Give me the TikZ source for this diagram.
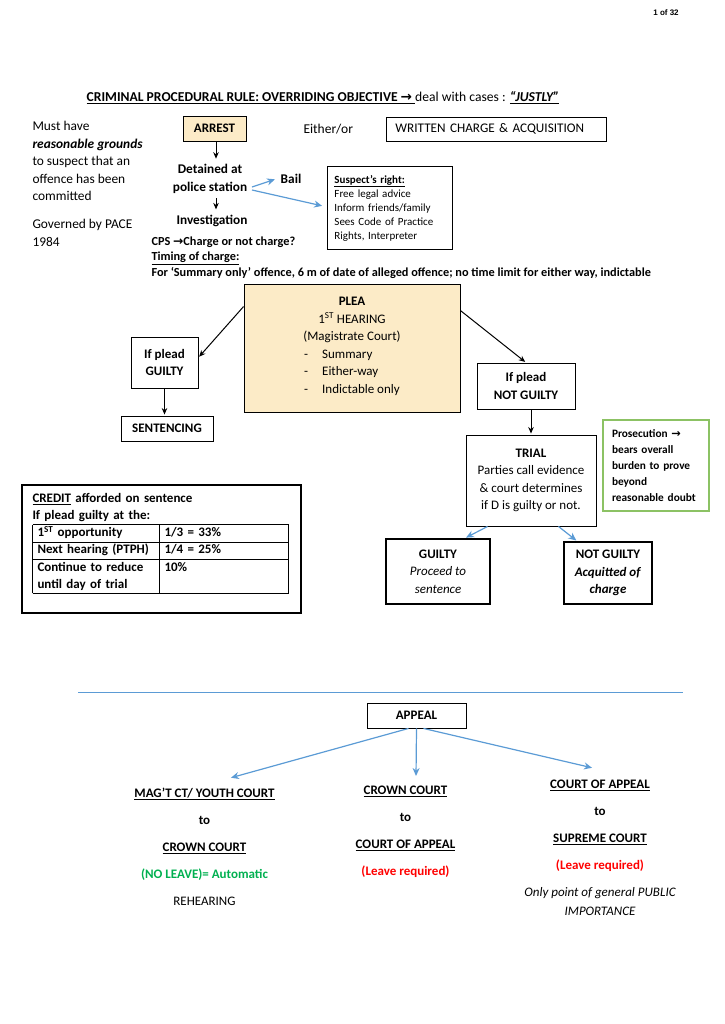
\documentclass[tikz,border=0pt]{standalone}
\usepackage{fontspec}
\setmainfont{Carlito}
\newfontfamily\pgnumfont{Liberation Sans}
\newfontfamily\arrowfont{DejaVu Sans}
\usetikzlibrary{calc,arrows.meta}

\definecolor{pleayellow}{HTML}{FCEBC7}
\definecolor{arrowblue}{HTML}{5B9BD5}
\definecolor{proofgreen}{HTML}{8CC264}
\definecolor{okgreen}{HTML}{00B050}
\definecolor{leavered}{HTML}{FF0000}

\newcommand{\fs}[2]{\fontsize{#1}{#2}\selectfont}
\newcommand{\toarrow}{{\arrowfont\bfseries →}}
\newcommand{\uline}[1]{\underline{#1}}

\begin{document}
\begin{tikzpicture}[x=1pt,y=-1pt,->,>={Stealth[length=6.5pt,width=5.5pt]},shorten >=1pt,line width=1pt,
    box/.style={rectangle,draw,line width=0.9pt,align=center,inner sep=0pt},
    heavy box/.style={box,line width=1.8pt},
    blue arrow/.style={-{Stealth[length=8pt,width=7pt]},arrowblue,line width=1.2pt},
    small bold/.style={anchor=west,inner sep=0pt,font=\bfseries\fs{12.3}{16}}]
    \fs{13}{17.5}
    \useasboundingbox (0,0) rectangle (724,1024);

    % header
    \node[font=\pgnumfont\bfseries\fs{8}{9}] (page) at (666,13) {1 of 32};
    \node (title) at (323,98) {\fs{13.6}{15}{\bfseries\uline{CRIMINAL PROCEDURAL RULE: OVERRIDING OBJECTIVE \toarrow\ }}deal with cases : \textbf{\textit{\uline{“JUSTLY”}}}};

    % arrest and detention
    \node[anchor=north west,align=left,inner sep=0pt,font=\fs{13.4}{17.5}] (grounds) at (32,121) {Must have\\\textbf{\textit{reasonable grounds}}\\to suspect that an\\offence has been\\committed};
    \node[anchor=north west,align=left,inner sep=0pt,font=\fs{13.4}{17.5}] (pace) at (32,219) {Governed by PACE\\1984};

    \node[box,fill=pleayellow,minimum width=63pt,minimum height=25pt,font=\bfseries] (arrest) at (214.5,128.5) {ARREST};
    \node[anchor=west,inner sep=0pt,font=\fs{13.5}{17.5}] (either) at (303,129) {Either/or};
    \node[box,anchor=west,text width=202pt,align=left,inner xsep=9pt,minimum height=24pt,font=\fs{13.2}{17.5}] (written) at (386,129) {WRITTEN CHARGE \& ACQUISITION};

    \node[font=\bfseries\fs{13.3}{17.5},align=center] (detained) at (210,179) {Detained at\\police station};
    \node[font=\bfseries\fs{13.3}{17.5}] (invest) at (212,221) {Investigation};
    \node[font=\bfseries\fs{13.3}{17.5}] (bail) at (291,179) {Bail};
    \node[box,anchor=north west,minimum width=123pt,minimum height=83pt,text width=111pt,align=left,inner xsep=7pt,font=\fs{11}{14}] (rights) at (327,166) {\textbf{\uline{Suspect’s right:}}\\Free legal advice\\Inform friends/family\\Sees Code of Practice\\Rights, Interpreter};

    \path[->]
        ([xshift=1.5pt]arrest.south) edge ([xshift=1.5pt]arrest.south |- detained.north)
        ([xshift=4pt]invest.north |- detained.south) edge ([xshift=4pt]invest.north);
    \path[blue arrow]
        ([yshift=-8pt]detained.east) edge (bail.west)
        ([yshift=-11pt]detained.east) edge[shorten >=5pt] ([yshift=1pt]rights.west);

    \node[small bold] (cps) at (151,242) {CPS \toarrow Charge or not charge?};
    \node[small bold] (timing) at (151,258) {\uline{Timing of charge:}};
    \node[small bold] (limit) at (151,273) {For ‘Summary only’ offence, 6 m of date of alleged offence; no time limit for either way, indictable};

    % plea
    \node[box,fill=pleayellow,minimum width=216pt,minimum height=128pt] (plea) at (352,348) {\textbf{PLEA}\\1\textsuperscript{ST} HEARING\\(Magistrate Court)\\{\begin{tabular}[t]{@{}l@{\hspace{14pt}}l@{}}-&Summary\\-&Either-way\\-&Indictable only\end{tabular}}};
    \node[box,minimum width=67pt,minimum height=51pt,font=\bfseries] (pleadguilty) at (164.5,362.5) {If plead\\GUILTY};
    \node[box,minimum width=98pt,minimum height=46pt,font=\bfseries] (pleadnot) at (526,386) {If plead\\NOT GUILTY};
    \node[box,minimum width=92pt,minimum height=25pt,font=\bfseries] (sentencing) at (167,428.5) {SENTENCING};

    \path[->]
        ([yshift=-23pt]plea.north west) edge ([yshift=5pt]pleadguilty.east)
        ([yshift=-27pt]plea.north east) edge (pleadnot.north)
        (pleadguilty.south) edge (pleadguilty.south |- sentencing.north);

    % trial
    \node[box,minimum width=130pt,minimum height=91pt] (trial) at (531,480.5) {\textbf{TRIAL}\\Parties call evidence\\\& court determines\\if D is guilty or not.};
    \node[box,draw=proofgreen,line width=1.2pt,minimum width=106pt,minimum height=91pt,text width=88pt,align=left,inner xsep=9pt,font=\bfseries\fs{11.3}{16}] (burden) at (656,465.5) {Prosecution \toarrow\\bears overall\\burden to prove\\beyond\\reasonable doubt};
    \path[->] (trial.north |- pleadnot.south) edge (trial.north);

    \node[heavy box,minimum width=104pt,minimum height=65pt] (guiltyv) at (438,571.5) {\textbf{GUILTY}\\\textit{Proceed to}\\\textit{sentence}};
    \node[heavy box,minimum width=88pt,minimum height=62pt,font=\bfseries] (notguiltyv) at (608,573) {NOT GUILTY\\\textit{Acquitted of}\\\textit{charge}};
    \path[blue arrow]
        ([xshift=22pt]trial.south west) edge ([xshift=80pt]guiltyv.north west)
        ([xshift=-38pt]trial.south east) edge ([xshift=14pt]notguiltyv.north west);

    % credit
    \node[heavy box,anchor=north west,minimum width=279pt,minimum height=128pt] (credit) at (21,484) {};
    \node[anchor=north west,inner sep=0pt,text width=258pt,align=left,font=\bfseries\fs{13}{17}] (credit table) at ([shift={(11,9)}]credit.north west) {\uline{CREDIT} afforded on sentence\\If plead guilty at the:\\[-12pt]{\setlength{\tabcolsep}{5pt}\begin{tabular}[t]{|p{117pt}|p{119pt}|}\hline 1\textsuperscript{ST} opportunity & 1/3 = 33\%\\\hline Next hearing (PTPH) & 1/4 = 25\%\\\hline Continue to reduce\newline until day of trial & 10\%\\\hline\end{tabular}}};

    % appeal
    \draw[-,arrowblue,line width=1pt] (78,692) -- (684,692);
    \node[box,minimum width=99pt,minimum height=25pt,font=\bfseries] (appeal) at (416.5,715.5) {APPEAL};

    \node[align=center,font=\bfseries\fs{13}{27}] (magct) at (204.5,847) {\uline{MAG’T CT/ YOUTH COURT}\\to\\\uline{CROWN COURT}\\\textcolor{okgreen}{(NO LEAVE)= Automatic}\\\mdseries REHEARING};
    \node[align=center,font=\bfseries\fs{13}{27}] (crown) at (405.5,832) {\uline{CROWN COURT}\\to\\\uline{COURT OF APPEAL}\\\textcolor{leavered}{(Leave required)}};
    \node[align=center,font=\bfseries\fs{13}{27}] (court) at (600,848) {\uline{COURT OF APPEAL}\\to\\\uline{SUPREME COURT}\\\textcolor{leavered}{(Leave required)}\\\mdseries\itshape Only point of general PUBLIC\\[-8pt]\mdseries\itshape IMPORTANCE};

    \coordinate (magct in) at (230,778);
    \coordinate (crown in) at (416,777);
    \coordinate (court in) at (593,768);
    \path[blue arrow]
        ([xshift=-8pt]appeal.south) edge (magct in)
        (appeal.south) edge (crown in)
        ([xshift=7pt]appeal.south) edge (court in);
\end{tikzpicture}
\end{document}
